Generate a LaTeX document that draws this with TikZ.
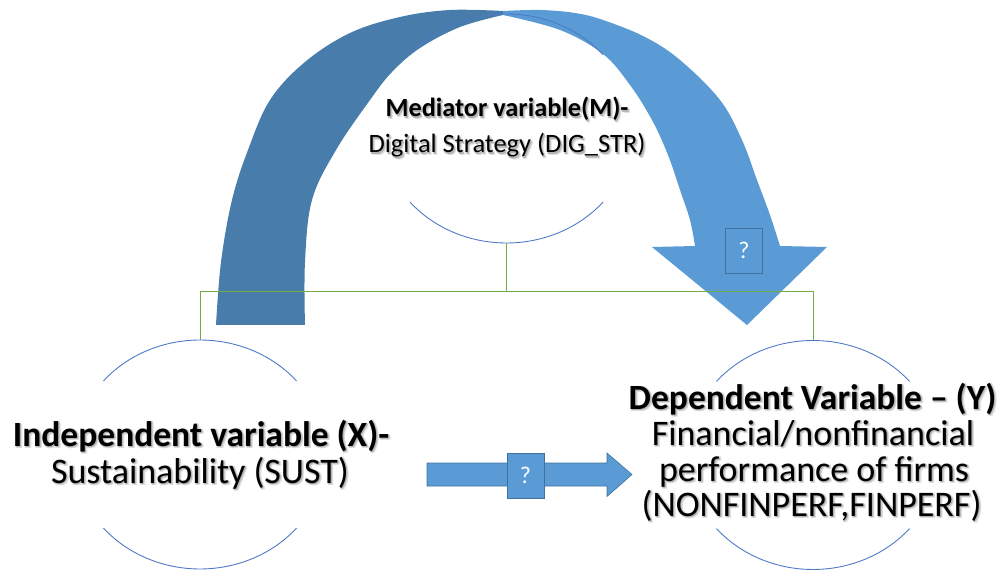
\documentclass[tikz,border=0pt]{standalone}
\usepackage{fontspec}
\setmainfont{Carlito}
\usetikzlibrary{calc}

\definecolor{arrowblue}{RGB}{91,155,213}
\definecolor{arrowdark}{RGB}{72,124,170}
\definecolor{arrowedge}{RGB}{65,113,156}
\definecolor{ringblue}{RGB}{78,122,200}
\definecolor{linkgreen}{RGB}{112,173,71}

\tikzset{
  ring/.style={draw=ringblue, line width=0.9pt},
  link/.style={draw=linkgreen, line width=1pt},
  qbox/.style={draw=arrowedge, fill=arrowblue, line width=0.8pt, text=white,
    minimum width=37pt, minimum height=45pt, inner sep=0pt,
    font=\fontsize{24}{28}\selectfont},
  line/.style={anchor=base, inner sep=0pt},
  bigtxt/.style={line, font=\fontsize{36}{38}\selectfont},
  bigbold/.style={line, font=\fontsize{35.5}{38}\selectfont\bfseries},
  smalltxt/.style={line, font=\fontsize{26.5}{30}\selectfont},
  smallbold/.style={line, font=\fontsize{26.3}{30}\selectfont\bfseries},
}

% text with a soft dark shadow set behind it; the shadow adds no size
\newcommand\shdlayer[4]{% #1 drop  #2 kern  #3 tint  #4 text
  \makebox[0pt][l]{\raisebox{-#1}[0pt][0pt]{\kern#2\textcolor{black!#3}{#4}}}}
\newcommand\shd[1]{%
  \shdlayer{2.5pt}{2.5pt}{12}{#1}%
  \shdlayer{2pt}{0.5pt}{14}{#1}%
  \shdlayer{0.5pt}{2pt}{14}{#1}%
  \shdlayer{1.2pt}{1.2pt}{30}{#1}%
  #1}

% upper and lower arcs of a variable's ring
\newcommand\ringarcs[1]{%
  \draw[ring, shift={(#1)}] plot[domain=40:140, samples=40]
    ({126*cos(\x)}, {-114.5*sin(\x)});
  \draw[ring, shift={(#1)}] plot[domain=220:320, samples=40]
    ({126*cos(\x)}, {-114.5*sin(\x)});
}

\begin{document}
\begin{tikzpicture}[x=1pt, y=-1pt]
\useasboundingbox (0,0) rectangle (1005,572);

% ring centres
\coordinate (M) at (506.5,128.5);
\coordinate (X) at (200,454.5);
\coordinate (Y) at (813,455);
\coordinate (Mbot) at ($(M)+(0,114.5)$);
\coordinate (Xtop) at ($(X)+(0,-114.5)$);
\coordinate (Ytop) at ($(Y)+(0,-114.5)$);
\coordinate (bar) at (0,292);

% curved arrow: rear (darker) half rising from the left foot
\fill[arrowdark]
  plot[smooth, tension=0.6] coordinates {(216,325) (221,262) (232,200) (248,150)
      (270,100) (305,62) (350,33) (400,17) (450,10) (503,11)}
  -- plot[smooth, tension=0.6] coordinates {(503,15) (460,27) (420,48) (392,72)
      (370,100) (336,150) (312,200) (305,262) (305,325)}
  -- cycle;

% curved arrow: front half descending into the head
\fill[arrowblue]
  plot[smooth, tension=0.6] coordinates {(503,11) (540,10) (575,13) (603,20)
      (645,37) (680,60) (720,100) (742,140) (757,180) (770,215) (780,246)}
  -- (827,247) -- (747,325) -- (652,247) -- (695,246)
  -- plot[smooth, tension=0.6] coordinates {(695,246) (690,220) (680,190)
      (668,155) (652,120) (630,85) (603,54) (560,30) (503,15)}
  -- cycle;
\node[qbox] (q1) at (744,250.5) {?};

% links from the mediator to both variables
\draw[link] (Mbot) -- (Mbot |- bar);
\draw[link] (Xtop) -- (Xtop |- bar) -- (Ytop |- bar) -- (Ytop);

% rings
\ringarcs{M}
\ringarcs{X}
\ringarcs{Y}

% direct effect arrow
\coordinate (S) at (427,474.5);
\filldraw[fill=arrowblue, draw=arrowedge, line width=0.6pt]
  ($(S)+(0,-11.5)$) -- ++(180,0) -- ++(0,-10) -- ($(S)+(205,0)$)
  -- ($(S)+(180,22)$) -- ++(0,-10.5) -- ($(S)+(0,11.5)$) -- cycle;
\node[qbox] (q2) at (525.5,475.5) {?};

% texts
\node[smallbold] (m1) at (507,117) {\shd{Mediator variable(M)-}};
\node[smalltxt]  (m2) at (507,153) {\shd{Digital Strategy (DIG\_STR)}};

\node[bigbold] (x1) at (201,446) {\shd{Independent variable (X)-}};
\node[bigtxt]  (x2) at (200,483) {\shd{Sustainability (SUST)}};

\node[bigbold] (y1) at (812.5,409) {\shd{Dependent Variable – (Y)}};
\node[bigtxt]  (y2) at (813,445)   {\shd{Financial/nonfinancial}};
\node[bigtxt]  (y3) at (814,481)   {\shd{performance of firms}};
\node[bigtxt]  (y4) at (811.5,516) {\shd{(NONFINPERF,FINPERF)}};
\end{tikzpicture}
\end{document}
